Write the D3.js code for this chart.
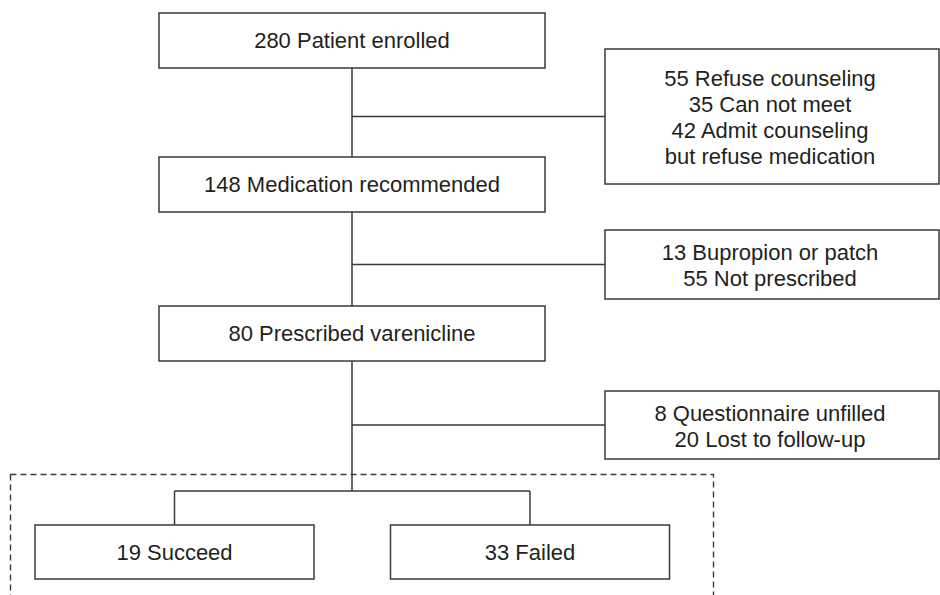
<!DOCTYPE html>
<html>
<head>
<meta charset="utf-8">
<script src="https://cdn.jsdelivr.net/npm/d3@7.9.0/dist/d3.min.js"></script>
<style>
  html, body { margin: 0; padding: 0; background: #fff; }
  svg { display: block; }
  text { font-family: "Liberation Sans", Arial, sans-serif; font-size: 22px; fill: #231f20; }
</style>
</head>
<body>
<svg id="chart" width="940" height="595"></svg>
<script>
// flow steps (main column)
const mainSteps = ["280 Patient enrolled", "148 Medication recommended", "80 Prescribed varenicline"];

// exclusions branching off to the right, one per step transition
const exclusions = [
  ["55 Refuse counseling", "35 Can not meet", "42 Admit counseling", "but refuse medication"],
  ["13 Bupropion or patch", "55 Not prescribed"],
  ["8 Questionnaire unfilled", "20 Lost to follow-up"]
];

// final outcomes
const outcomes = ["19 Succeed", "33 Failed"];

const svg = d3.select("#chart");
const stroke = "#3a3a3a";

// layout
const mainX = 159, mainW = 386, boxH = 55;
const mainTops = [13, 157, 306];
const spineX = mainX + mainW / 2;

const sideX = 605, sideW = 334;
const sideBoxes = [
  { top: 49, bottom: 184 },
  { top: 230, bottom: 299 },
  { top: 391, bottom: 459 }
];
const lineH = 26;

const outY = 525, outH = 54;
const outX = d3.scalePoint().domain(outcomes).range([174.5, 530]);
const outW = 279;
const splitY = 491;

// dashed group around outcomes
svg.append("rect")
  .attr("x", 10.5).attr("y", 474.5)
  .attr("width", 703).attr("height", 160)
  .attr("fill", "none")
  .attr("stroke", stroke)
  .attr("stroke-width", 1.4)
  .attr("stroke-dasharray", "6,4");

// spine
svg.append("line")
  .attr("x1", spineX).attr("x2", spineX)
  .attr("y1", mainTops[0] + boxH).attr("y2", splitY)
  .attr("stroke", stroke).attr("stroke-width", 1.5);

// main boxes
const main = svg.selectAll("g.main")
  .data(mainSteps)
  .join("g")
  .attr("class", "main");

main.append("rect")
  .attr("x", mainX).attr("y", (d, i) => mainTops[i])
  .attr("width", mainW).attr("height", boxH)
  .attr("fill", "#fff")
  .attr("stroke", stroke).attr("stroke-width", 1.5);

main.append("text")
  .attr("x", spineX).attr("y", (d, i) => mainTops[i] + boxH / 2)
  .attr("text-anchor", "middle")
  .attr("dominant-baseline", "central")
  .text(d => d);

// side boxes with branch connectors
const side = svg.selectAll("g.side")
  .data(exclusions)
  .join("g")
  .attr("class", "side");

side.append("line")
  .attr("x1", spineX).attr("x2", sideX)
  .attr("y1", (d, i) => (sideBoxes[i].top + sideBoxes[i].bottom) / 2)
  .attr("y2", (d, i) => (sideBoxes[i].top + sideBoxes[i].bottom) / 2)
  .attr("stroke", stroke).attr("stroke-width", 1.5);

side.append("rect")
  .attr("x", sideX).attr("y", (d, i) => sideBoxes[i].top)
  .attr("width", sideW)
  .attr("height", (d, i) => sideBoxes[i].bottom - sideBoxes[i].top)
  .attr("fill", "#fff")
  .attr("stroke", stroke).attr("stroke-width", 1.5);

side.each(function (lines, i) {
  const cy = (sideBoxes[i].top + sideBoxes[i].bottom) / 2 + 1;
  const t = d3.select(this).append("text")
    .attr("text-anchor", "middle");
  lines.forEach((l, j) => {
    t.append("tspan")
      .attr("x", sideX + sideW / 2 - 2)
      .attr("y", cy + (j - (lines.length - 1) / 2) * lineH)
      .attr("dominant-baseline", "central")
      .text(l);
  });
});

// split to outcomes
svg.append("line")
  .attr("x1", outX(outcomes[0])).attr("x2", outX(outcomes[outcomes.length - 1]))
  .attr("y1", splitY).attr("y2", splitY)
  .attr("stroke", stroke).attr("stroke-width", 1.5);

const out = svg.selectAll("g.out")
  .data(outcomes)
  .join("g")
  .attr("class", "out");

out.append("line")
  .attr("x1", d => outX(d)).attr("x2", d => outX(d))
  .attr("y1", splitY).attr("y2", outY)
  .attr("stroke", stroke).attr("stroke-width", 1.5);

out.append("rect")
  .attr("x", d => outX(d) - outW / 2).attr("y", outY)
  .attr("width", outW).attr("height", outH)
  .attr("fill", "#fff")
  .attr("stroke", stroke).attr("stroke-width", 1.5);

out.append("text")
  .attr("x", d => outX(d)).attr("y", outY + outH / 2)
  .attr("text-anchor", "middle")
  .attr("dominant-baseline", "central")
  .text(d => d);
</script>
</body>
</html>
